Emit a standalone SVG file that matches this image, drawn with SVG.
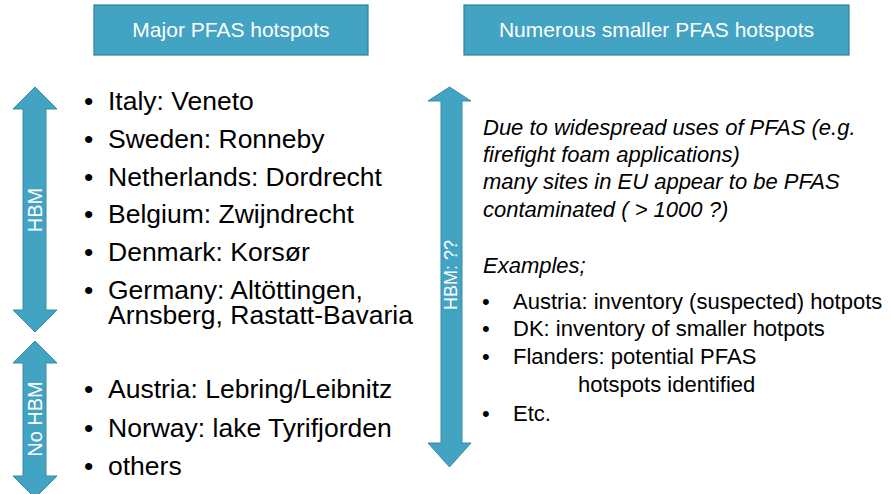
<svg xmlns="http://www.w3.org/2000/svg" width="891" height="494" viewBox="0 0 891 494">
<style>
.box{fill:#43A3C3;stroke:#31809B;stroke-width:1.2}
.arr{fill:#43A3C3;stroke:#3A8AA5;stroke-width:1}
.btxt{font-family:"Liberation Sans",Arial,sans-serif;font-size:21px;fill:#fff;text-anchor:middle}
.vtxt{font-family:"Liberation Sans",Arial,sans-serif;font-size:20px;fill:#fff;text-anchor:middle}
.big{font-family:"Liberation Sans",Arial,sans-serif;font-size:26.5px;fill:#000}
.sm{font-family:"Liberation Sans",Arial,sans-serif;font-size:22px;fill:#000}
.it{font-style:italic}
</style>
<rect width="891" height="494" fill="#fff"/>
<g id="major-box">
<rect class="box" x="94" y="5" width="274" height="50"/>
<text class="btxt" x="231" y="37">Major PFAS hotspots</text>
</g>
<g id="smaller-box">
<rect class="box" x="464" y="5" width="385" height="50"/>
<text class="btxt" x="656.5" y="37">Numerous smaller PFAS hotspots</text>
</g>
<g id="connectors">
<g id="arrow-hbm">
<polygon class="arr" points="35,87 57,109 46,109 46,310 57,310 35,332 13,310 23,310 23,109 13,109"/>
<text class="vtxt" transform="translate(42,210) rotate(-90)">HBM</text>
</g>
<g id="arrow-nohbm">
<polygon class="arr" points="35,341 57,363 46,363 46,476 57,476 35,498 13,476 23,476 23,363 13,363"/>
<text class="vtxt" transform="translate(42,419) rotate(-90)">No HBM</text>
</g>
<g id="arrow-hbm-q">
<polygon class="arr" points="449.5,87 471,101 462,101 462,443 471,443 449.5,467 428,443 441,443 441,101 428,101"/>
<text class="vtxt" transform="translate(457,275) rotate(-90)" style="font-size:18px">HBM: ??</text>
</g>
</g>
<g id="major-list" class="big">
<text x="84" y="110">•</text><text x="108" y="110">Italy: Veneto</text>
<text x="84" y="148">•</text><text x="108" y="148">Sweden: Ronneby</text>
<text x="84" y="186">•</text><text x="108" y="186">Netherlands: Dordrecht</text>
<text x="84" y="223">•</text><text x="108" y="223">Belgium: Zwijndrecht</text>
<text x="84" y="261">•</text><text x="108" y="261">Denmark: Korsør</text>
<text x="84" y="299">•</text><text x="108" y="299">Germany: Altöttingen,<tspan x="108" y="324">Arnsberg, Rastatt-Bavaria</tspan></text>
<text x="84" y="398">•</text><text x="108" y="398">Austria: Lebring/Leibnitz</text>
<text x="84" y="437">•</text><text x="108" y="437">Norway: lake Tyrifjorden</text>
<text x="84" y="475">•</text><text x="108" y="475">others</text>
</g>
<g id="smaller-text" class="sm">
<text class="it" x="483" y="135">Due to widespread uses of PFAS (e.g.</text>
<text class="it" x="483" y="162">firefight foam applications)</text>
<text class="it" x="483" y="189">many sites in EU appear to be PFAS</text>
<text class="it" x="483" y="217">contaminated  ( &gt; 1000 ?)</text>
<text class="it" x="483" y="273">Examples;</text>
<text x="482" y="309">•</text><text x="513" y="309">Austria: inventory (suspected) hotpots</text>
<text x="482" y="336">•</text><text x="513" y="336">DK: inventory of smaller hotpots</text>
<text x="482" y="364">•</text><text x="513" y="364">Flanders:  potential PFAS<tspan x="578" y="392">hotspots identified</tspan></text>
<text x="482" y="421">•</text><text x="513" y="421">Etc.</text>
</g>
</svg>
